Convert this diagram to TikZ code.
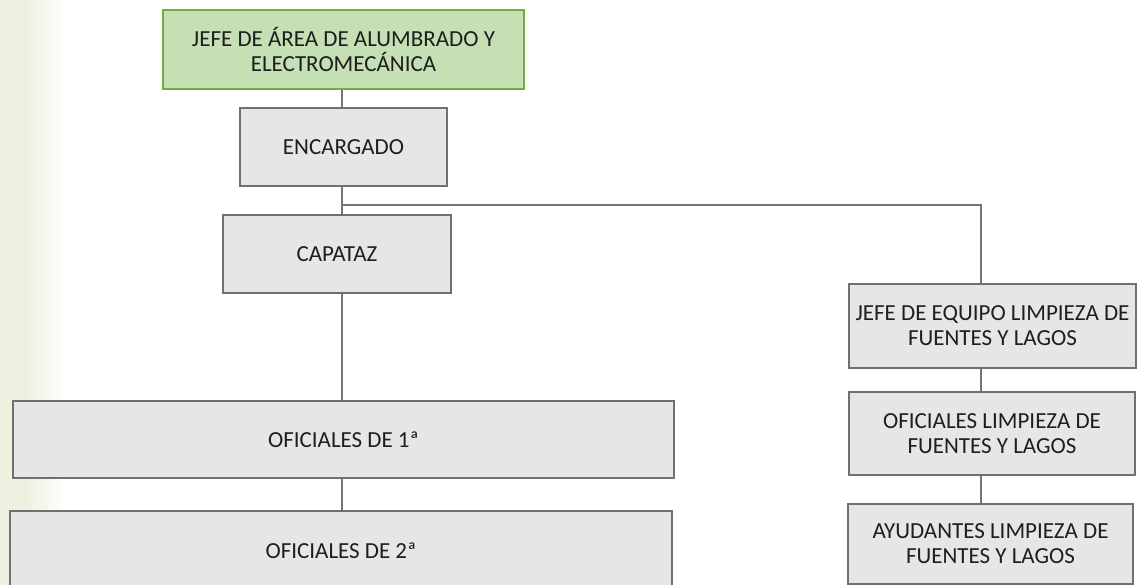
\documentclass[tikz,border=0pt]{standalone}
\usepackage{fontspec}
\setmainfont{Carlito}
\definecolor{boxfill}{HTML}{E6E6E6}
\definecolor{boxline}{HTML}{707070}
\definecolor{greenfill}{HTML}{C5E0B4}
\definecolor{greenline}{HTML}{70AD47}
\definecolor{conn}{HTML}{767676}
\definecolor{txt}{HTML}{1E1E1E}
\definecolor{bgleft}{HTML}{EDF1E0}
\tikzset{
  orgbox/.style={draw=boxline, fill=boxfill, line width=2pt, inner sep=0pt,
    align=center, text=txt, font=\fontsize{23}{25}\selectfont},
  topbox/.style={orgbox, draw=greenline, fill=greenfill},
  link/.style={draw=conn, line width=2pt}
}
\begin{document}
\begin{tikzpicture}[x=1pt,y=-1pt]
\clip (0,0) rectangle (1137,585);
\fill[white] (0,0) rectangle (1137,585);
\fill[bgleft] (0,0) rectangle (25,585);
\shade[left color=bgleft, right color=white] (25,0) rectangle (65,585);

\coordinate (t) at (342,205);
\coordinate (r) at (981,205);

\node[topbox, minimum width=361pt, minimum height=79pt] (jefe) at (343.5,49.5)
  {JEFE DE ÁREA DE ALUMBRADO Y\\ELECTROMECÁNICA};
\node[orgbox, minimum width=207pt, minimum height=78pt] (enc) at (343.5,147) {ENCARGADO};
\node[orgbox, minimum width=228pt, minimum height=78pt] (cap) at (337,254) {CAPATAZ};
\node[orgbox, minimum width=661pt, minimum height=77pt] (of1) at (343.5,439.5) {OFICIALES DE 1ª};
\node[orgbox, minimum width=662pt, minimum height=80pt] (of2) at (341,551) {OFICIALES DE 2ª};
\node[orgbox, minimum width=287pt, minimum height=84pt] (jeq) at (992.5,326)
  {JEFE DE EQUIPO LIMPIEZA DE\\FUENTES Y LAGOS};
\node[orgbox, minimum width=286pt, minimum height=83pt] (ofl) at (992,433.5)
  {OFICIALES LIMPIEZA DE\\FUENTES Y LAGOS};
\node[orgbox, minimum width=285pt, minimum height=80pt] (ayu) at (990.5,544)
  {AYUDANTES LIMPIEZA DE\\FUENTES Y LAGOS};

\draw[link] (jefe.south -| t) -- (enc.north -| t);
\draw[link] (enc.south -| t) -- (cap.north -| t);
\draw[link] (t) -- (r) -- (jeq.north -| r);
\draw[link] (cap.south -| t) -- (of1.north -| t);
\draw[link] (of1.south -| t) -- (of2.north -| t);
\draw[link] (jeq.south -| r) -- (ofl.north -| r);
\draw[link] (ofl.south -| r) -- (ayu.north -| r);
\end{tikzpicture}
\end{document}
